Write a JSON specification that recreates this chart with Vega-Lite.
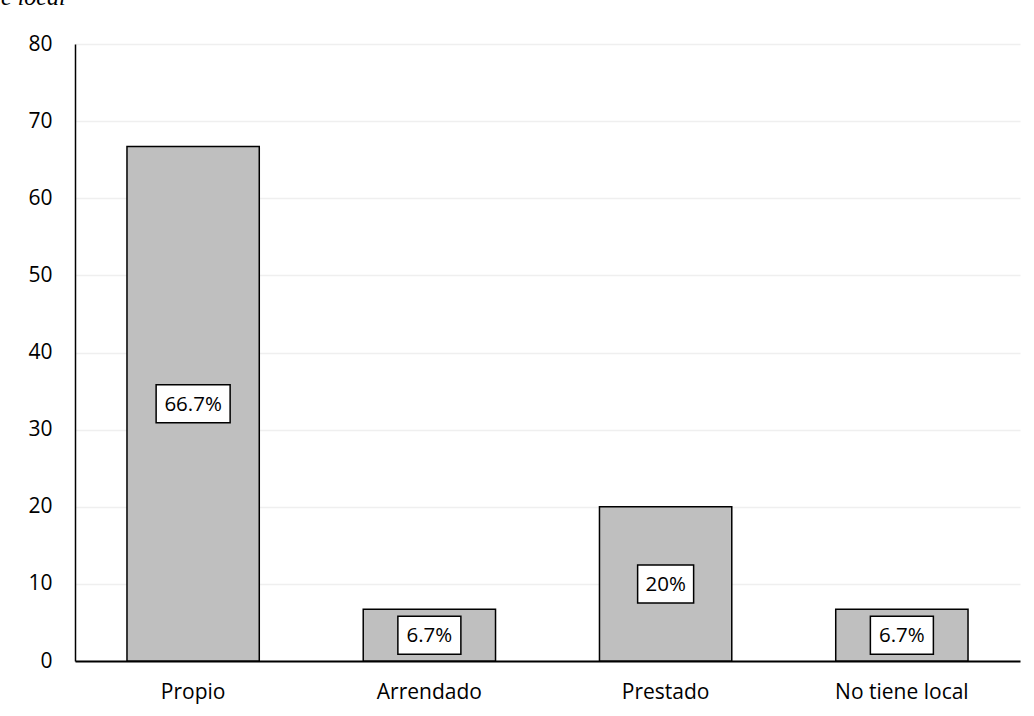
{
  "$schema": "https://vega.github.io/schema/vega-lite/v6.json",
  "width": 945,
  "height": 617,
  "autosize": {"type": "none"},
  "padding": {"left": 75, "top": 44, "right": 14, "bottom": 55},
  "background": "white",
  "title": {
    "text": "e local",
    "anchor": "start",
    "frame": "group",
    "font": "Liberation Serif",
    "fontStyle": "italic",
    "fontWeight": "normal",
    "fontSize": 24,
    "color": "black",
    "baseline": "alphabetic",
    "offset": 20,
    "dx": -74,
    "dy": 16
  },
  "data": {
    "values": [
      {"categoria": "Propio", "valor": 66.7, "etiqueta": "66.7%"},
      {"categoria": "Arrendado", "valor": 6.7, "etiqueta": "6.7%"},
      {"categoria": "Prestado", "valor": 20, "etiqueta": "20%"},
      {"categoria": "No tiene local", "valor": 6.7, "etiqueta": "6.7%"}
    ]
  },
  "config": {
    "view": {"stroke": null},
    "font": "Open Sans"
  },
  "encoding": {
    "x": {
      "field": "categoria",
      "type": "nominal",
      "sort": null,
      "scale": {"paddingInner": 0.44, "paddingOuter": 0.22},
      "axis": {
        "title": null,
        "labelAngle": 0,
        "labelFont": "Open Sans",
        "labelFontSize": 21,
        "labelColor": "black",
        "labelPadding": 20,
        "ticks": false,
        "domainColor": "black",
        "domainWidth": 2
      }
    }
  },
  "layer": [
    {
      "mark": {"type": "bar", "fill": "#bfbfbf", "stroke": "black", "strokeWidth": 1.5},
      "encoding": {
        "y": {
          "field": "valor",
          "type": "quantitative",
          "scale": {"domain": [0, 80]},
          "axis": {
            "title": null,
            "values": [0, 10, 20, 30, 40, 50, 60, 70, 80],
            "labelFont": "Open Sans",
            "labelFontSize": 21,
            "labelColor": "black",
            "labelPadding": 23,
            "ticks": false,
            "domainColor": "black",
            "domainWidth": 1.5,
            "gridColor": "#efefef",
            "gridWidth": 1.5
          }
        }
      }
    },
    {
      "layer": [
        {
          "mark": {"type": "point", "filled": true, "fill": "white", "stroke": "black", "strokeWidth": 1.5, "opacity": 1, "size": 400},
          "encoding": {
            "y": {"field": "valor", "type": "quantitative", "scale": {"domain": [0, 160]}, "axis": null},
            "shape": {
              "field": "etiqueta",
              "type": "nominal",
              "scale": {
                "domain": ["66.7%", "6.7%", "20%"],
                "range": [
                  "M-3.7,-1.9H3.7V1.9H-3.7Z",
                  "M-3.15,-1.9H3.15V1.9H-3.15Z",
                  "M-2.8,-1.9H2.8V1.9H-2.8Z"
                ]
              },
              "legend": null
            }
          }
        },
        {
          "mark": {"type": "text", "font": "Open Sans", "fontSize": 20.5, "color": "black", "baseline": "middle", "dy": 1},
          "encoding": {
            "y": {"field": "valor", "type": "quantitative", "scale": {"domain": [0, 160]}, "axis": null},
            "text": {"field": "etiqueta", "type": "nominal"}
          }
        }
      ]
    }
  ],
  "resolve": {"scale": {"y": "independent"}}
}
